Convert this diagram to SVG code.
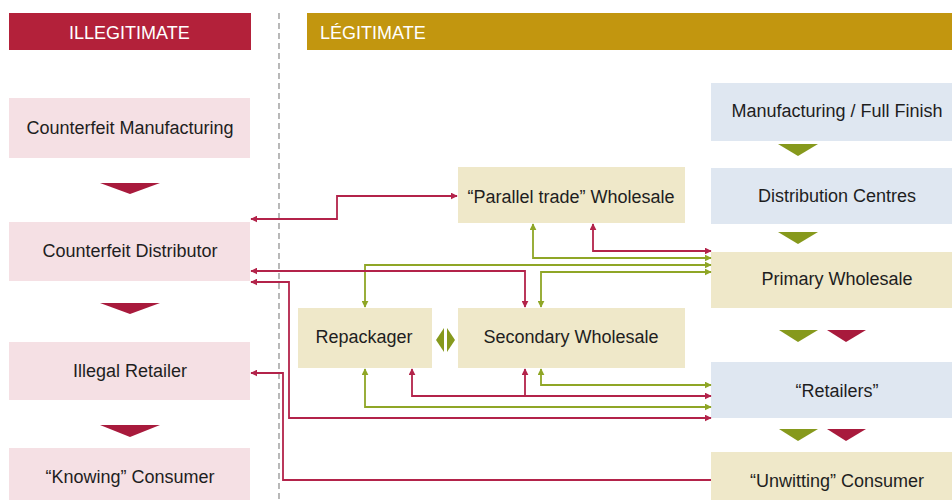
<svg xmlns="http://www.w3.org/2000/svg" width="952" height="500" viewBox="0 0 952 500">
<style>
text{font-family:"Liberation Sans",Arial,sans-serif;font-size:18px;fill:#1e1e1e;text-anchor:middle}
.hd{fill:#fff;text-anchor:start}
.pink{fill:#f5e0e4}
.tan{fill:#efe8c9}
.blue{fill:#dfe7f1}
.r{fill:none;stroke:#b3234a;stroke-width:1.8}
.g{fill:none;stroke:#8fa626;stroke-width:1.8}
.tr{fill:#a81a3c}
.tg{fill:#86991c}
</style>
<defs>
<marker id="ar" viewBox="0 0 10 10" refX="9" refY="5" markerWidth="7" markerHeight="7" markerUnits="userSpaceOnUse" orient="auto-start-reverse"><path d="M0,0 L10,5 L0,10 Z" fill="#b3234a"/></marker>
<marker id="ag" viewBox="0 0 10 10" refX="9" refY="5" markerWidth="7" markerHeight="7" markerUnits="userSpaceOnUse" orient="auto-start-reverse"><path d="M0,0 L10,5 L0,10 Z" fill="#8fa626"/></marker>
</defs>
<rect width="952" height="500" fill="#fff"/>
<g id="headers">
<rect x="9" y="13" width="242" height="37" fill="#b3213a"/>
<text class="hd" x="69" y="39">ILLEGITIMATE</text>
<rect x="307" y="13" width="645" height="37" fill="#c2960f"/>
<text class="hd" x="320" y="39">LÉGITIMATE</text>
</g>
<line x1="279" y1="13" x2="279" y2="500" stroke="#8a8a8a" stroke-width="1.2" stroke-dasharray="6,4"/>
<g id="n-cm"><rect class="pink" x="9" y="98" width="241" height="60"/><text x="130" y="134">Counterfeit Manufacturing</text></g>
<g id="n-cd"><rect class="pink" x="9" y="222" width="241" height="59"/><text x="130" y="257">Counterfeit Distributor</text></g>
<g id="n-ir"><rect class="pink" x="9" y="342" width="241" height="58"/><text x="130" y="377">Illegal Retailer</text></g>
<g id="n-kc"><rect class="pink" x="9" y="448" width="241" height="52"/><text x="130" y="483">“Knowing” Consumer</text></g>
<g id="n-mf"><rect class="blue" x="711" y="83" width="241" height="58"/><text x="837" y="117">Manufacturing / Full Finish</text></g>
<g id="n-dc"><rect class="blue" x="711" y="168" width="241" height="56"/><text x="837" y="202">Distribution Centres</text></g>
<g id="n-pw"><rect class="tan" x="711" y="252" width="241" height="56"/><text x="837" y="285">Primary Wholesale</text></g>
<g id="n-rt"><rect class="blue" x="711" y="362" width="241" height="56"/><text x="837" y="397">“Retailers”</text></g>
<g id="n-uc"><rect class="tan" x="711" y="452" width="241" height="48"/><text x="837" y="487">“Unwitting” Consumer</text></g>
<g id="n-pt"><rect class="tan" x="458" y="167" width="227" height="56"/><text x="571" y="203">“Parallel trade” Wholesale</text></g>
<g id="n-rp"><rect class="tan" x="298" y="308" width="134" height="60"/><text x="364" y="343">Repackager</text></g>
<g id="n-sw"><rect class="tan" x="458" y="308" width="227" height="60"/><text x="571" y="343">Secondary Wholesale</text></g>
<g id="flow-marks">
<path class="tr" d="M100,183 H160 L130,194 Z"/>
<path class="tr" d="M100,303 H160 L130,314 Z"/>
<path class="tr" d="M100,425 H160 L130,437 Z"/>
<path class="tg" d="M778,144 H818 L798,156 Z"/>
<path class="tg" d="M778,232 H818 L798,244 Z"/>
<path class="tg" d="M779,330 H818 L798,342 Z"/>
<path class="tr" d="M827,330 H866 L846,342 Z"/>
<path class="tg" d="M779,429 H818 L798,441 Z"/>
<path class="tr" d="M827,429 H866 L846,441 Z"/>
<path class="tg" d="M444,328 L436,340 L444,352 Z"/>
<path class="tg" d="M447,328 L455,340 L447,352 Z"/>
</g>
<g id="connectors">
<path class="r" d="M251,219 H337 V196 H457" marker-start="url(#ar)" marker-end="url(#ar)"/>
<path class="r" d="M593,224 V251 H711" marker-start="url(#ar)" marker-end="url(#ar)"/>
<path class="g" d="M533,224 V258 H711" marker-start="url(#ag)" marker-end="url(#ag)"/>
<path class="g" d="M365,307 V265 H711" marker-start="url(#ag)" marker-end="url(#ag)"/>
<path class="g" d="M541,307 V272 H711" marker-start="url(#ag)" marker-end="url(#ag)"/>
<path class="r" d="M251,271 H525 V307" marker-start="url(#ar)" marker-end="url(#ar)"/>
<path class="r" d="M251,282 H289 V418 H711" marker-start="url(#ar)" marker-end="url(#ar)"/>
<path class="g" d="M541,369 V385 H711" marker-start="url(#ag)" marker-end="url(#ag)"/>
<path class="r" d="M412,369 V396 H711" marker-start="url(#ar)" marker-end="url(#ar)"/>
<path class="r" d="M525,369 V396" marker-start="url(#ar)"/>
<path class="g" d="M365,369 V407 H711" marker-start="url(#ag)" marker-end="url(#ag)"/>
<path class="r" d="M251,373 H283 V480 H711" marker-start="url(#ar)"/>
</g>
</svg>
